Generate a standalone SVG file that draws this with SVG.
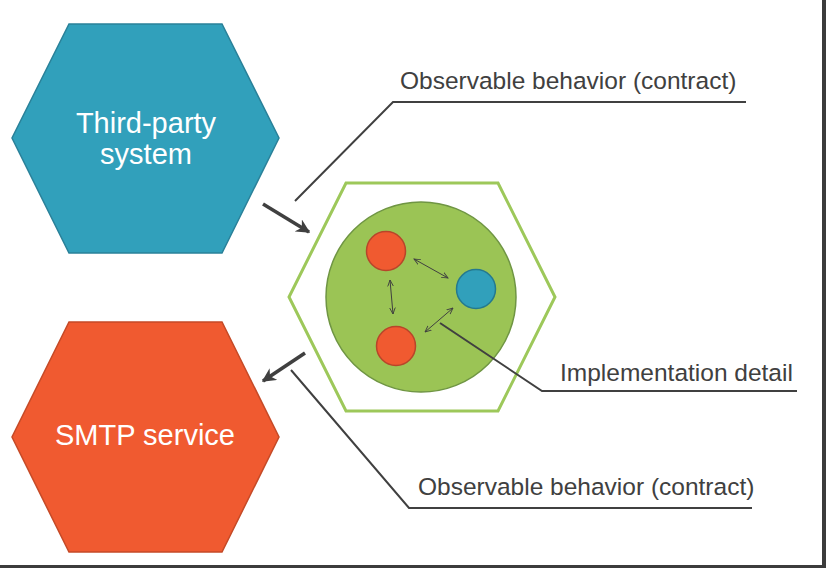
<svg xmlns="http://www.w3.org/2000/svg" width="826" height="568" viewBox="0 0 826 568">
<style>
.lbl{font-family:"Liberation Sans",Arial,sans-serif;font-size:24.5px;fill:#404040}
.hx{font-family:"Liberation Sans",Arial,sans-serif;font-size:29px;fill:#ffffff;text-anchor:middle}
.lead{fill:none;stroke:#404040;stroke-width:2}
.big{fill:none;stroke:#404040;stroke-width:3.5}
.small{fill:none;stroke:#404040;stroke-width:1}
</style>
<defs>
<marker id="ah" viewBox="0 0 10 10" refX="9" refY="5" markerWidth="4" markerHeight="4" orient="auto" markerUnits="strokeWidth">
<path d="M0,0 L10,5 L0,10 L3,5 Z" fill="#404040"/>
</marker>
<marker id="sh" viewBox="0 0 10 10" refX="9" refY="5" markerWidth="7" markerHeight="7" orient="auto-start-reverse" markerUnits="strokeWidth">
<path d="M0,1 L9,5 L0,9" fill="none" stroke="#404040" stroke-width="1.3"/>
</marker>
</defs>
<rect x="0" y="0" width="826" height="568" fill="#ffffff"/>
<rect x="822" y="0" width="4" height="568" fill="#3c3c3c"/>
<rect x="0" y="565" width="826" height="3" fill="#3c3c3c"/>

<g id="third-party">
<polygon points="69,24 222,24 279,138 222,253 69,253 12,138" fill="#31a0bb" stroke="#2a8199" stroke-width="1.5"/>
<text class="hx" x="146" y="133">Third-party</text>
<text class="hx" x="146" y="164">system</text>
</g>

<g id="smtp">
<polygon points="69,322 222,322 279,437 222,552 69,552 12,437" fill="#f05a30" stroke="#c54a27" stroke-width="1.5"/>
<text class="hx" x="145" y="445">SMTP service</text>
</g>

<g id="system">
<polygon points="346,183 498,183 555,297 498,411 346,411 289,297" fill="none" stroke="#9dc85a" stroke-width="3"/>
<circle cx="421" cy="297" r="95" fill="#9bc455" stroke="#6f9543" stroke-width="1.5"/>
</g>
<g id="component-a"><circle cx="386" cy="251" r="19.5" fill="#f05a30" stroke="#b8452a" stroke-width="1.5"/></g>
<g id="component-b"><circle cx="396" cy="346" r="19.5" fill="#f05a30" stroke="#b8452a" stroke-width="1.5"/></g>
<g id="component-c"><circle cx="476" cy="289" r="19.5" fill="#31a0bb" stroke="#24798f" stroke-width="1.5"/></g>

<g id="label-top"><text class="lbl" x="400" y="89">Observable behavior (contract)</text></g>
<g id="label-impl"><text class="lbl" x="560" y="381">Implementation detail</text></g>
<g id="label-bottom"><text class="lbl" x="418" y="495">Observable behavior (contract)</text></g>

<g id="connectors">
<path class="big" d="M263,204 L309,232" marker-end="url(#ah)"/>
<path class="big" d="M305,353 L263,381" marker-end="url(#ah)"/>
<path class="small" d="M414,259 L448,278" marker-start="url(#sh)" marker-end="url(#sh)"/>
<path class="small" d="M390,280 L393,314" marker-start="url(#sh)" marker-end="url(#sh)"/>
<path class="small" d="M453,308 L425,332" marker-start="url(#sh)" marker-end="url(#sh)"/>
<path class="lead" d="M295,201 L393,102 L746,102"/>
<path class="lead" d="M440,323 L542,391 L797,391"/>
<path class="lead" d="M291,370 L409,508 L752,508"/>
</g>
</svg>
